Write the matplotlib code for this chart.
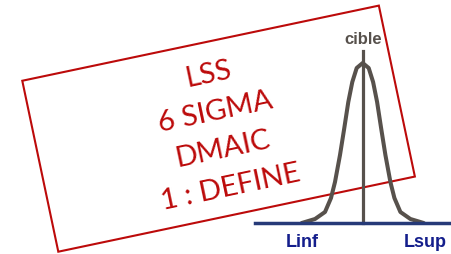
import matplotlib
matplotlib.use("Agg")
import matplotlib.pyplot as plt
from matplotlib.patches import Rectangle

# Cadre rouge incliné (coordonnées en pixels, y vers le haut)
cadre_origine = (58.3, 2.3)
cadre_largeur = 364.4
cadre_hauteur = 174.7
cadre_angle = 11.9

# Texte du cadre
lignes = ["LSS", "6 SIGMA", "DMAIC", "1 : DEFINE"]
lignes_x = [208.3, 215.3, 223.3, 231.0]
lignes_y = [179.3, 142.0, 105.0, 66.7]

# Courbe en cloche (demi-courbe, symétrique)
cible_x = 362.7
base_y = 31.0
ecart = [61.0, 47.7, 37.7, 31.7, 27.7, 22.7, 18.4, 14.4, 10.4, 6.0, 0.0]
hauteur = [0.0, 4.0, 11.0, 25.0, 41.0, 68.0, 95.0, 121.0, 141.0, 155.0, 160.0]

# Axe horizontal et limites
axe_x = [255, 452]
haut_cible = 203.0
etiquettes = ["cible", "Linf", "Lsup"]
etiquettes_x = [363.0, 302.2, 425.0]
etiquettes_y = [214.3, 11.5, 11.5]

rouge = "#BC0A0A"
gris = "#57514C"
marine = "#263A78"
bleu = "#141E8C"

fig = plt.figure(figsize=(4.52, 2.54), dpi=100)
ax = fig.add_axes([0, 0, 1, 1])
ax.set_xlim(0, 452)
ax.set_ylim(0, 254)
ax.axis("off")

ax.add_patch(Rectangle(cadre_origine, cadre_largeur, cadre_hauteur, angle=cadre_angle,
                       fill=False, edgecolor=rouge, linewidth=1.5))

for txt, x, y in zip(lignes, lignes_x, lignes_y):
    ax.text(x, y, txt, color=rouge, fontsize=21, family="Lato", rotation=cadre_angle,
            rotation_mode="anchor", ha="center", va="center")

# Courbe
xs = [cible_x - e for e in ecart] + [cible_x + e for e in ecart[::-1]][1:]
ys = [base_y + h for h in hauteur] + [base_y + h for h in hauteur[::-1]][1:]
ax.plot(xs, ys, color=gris, linewidth=2.9, solid_capstyle="round", solid_joinstyle="round")

ax.plot([cible_x, cible_x], [base_y, haut_cible], color=gris, linewidth=2.3)
ax.plot(axe_x, [base_y, base_y], color=marine, linewidth=2.5)

ax.text(etiquettes_x[0], etiquettes_y[0], etiquettes[0], color=gris, fontsize=12,
        fontweight="bold", family="Liberation Sans", ha="center", va="center")
for txt, x, y in zip(etiquettes[1:], etiquettes_x[1:], etiquettes_y[1:]):
    ax.text(x, y, txt, color=bleu, fontsize=13, fontweight="bold",
            family="Liberation Sans", ha="center", va="center")

fig.savefig("out.png", dpi=100)
